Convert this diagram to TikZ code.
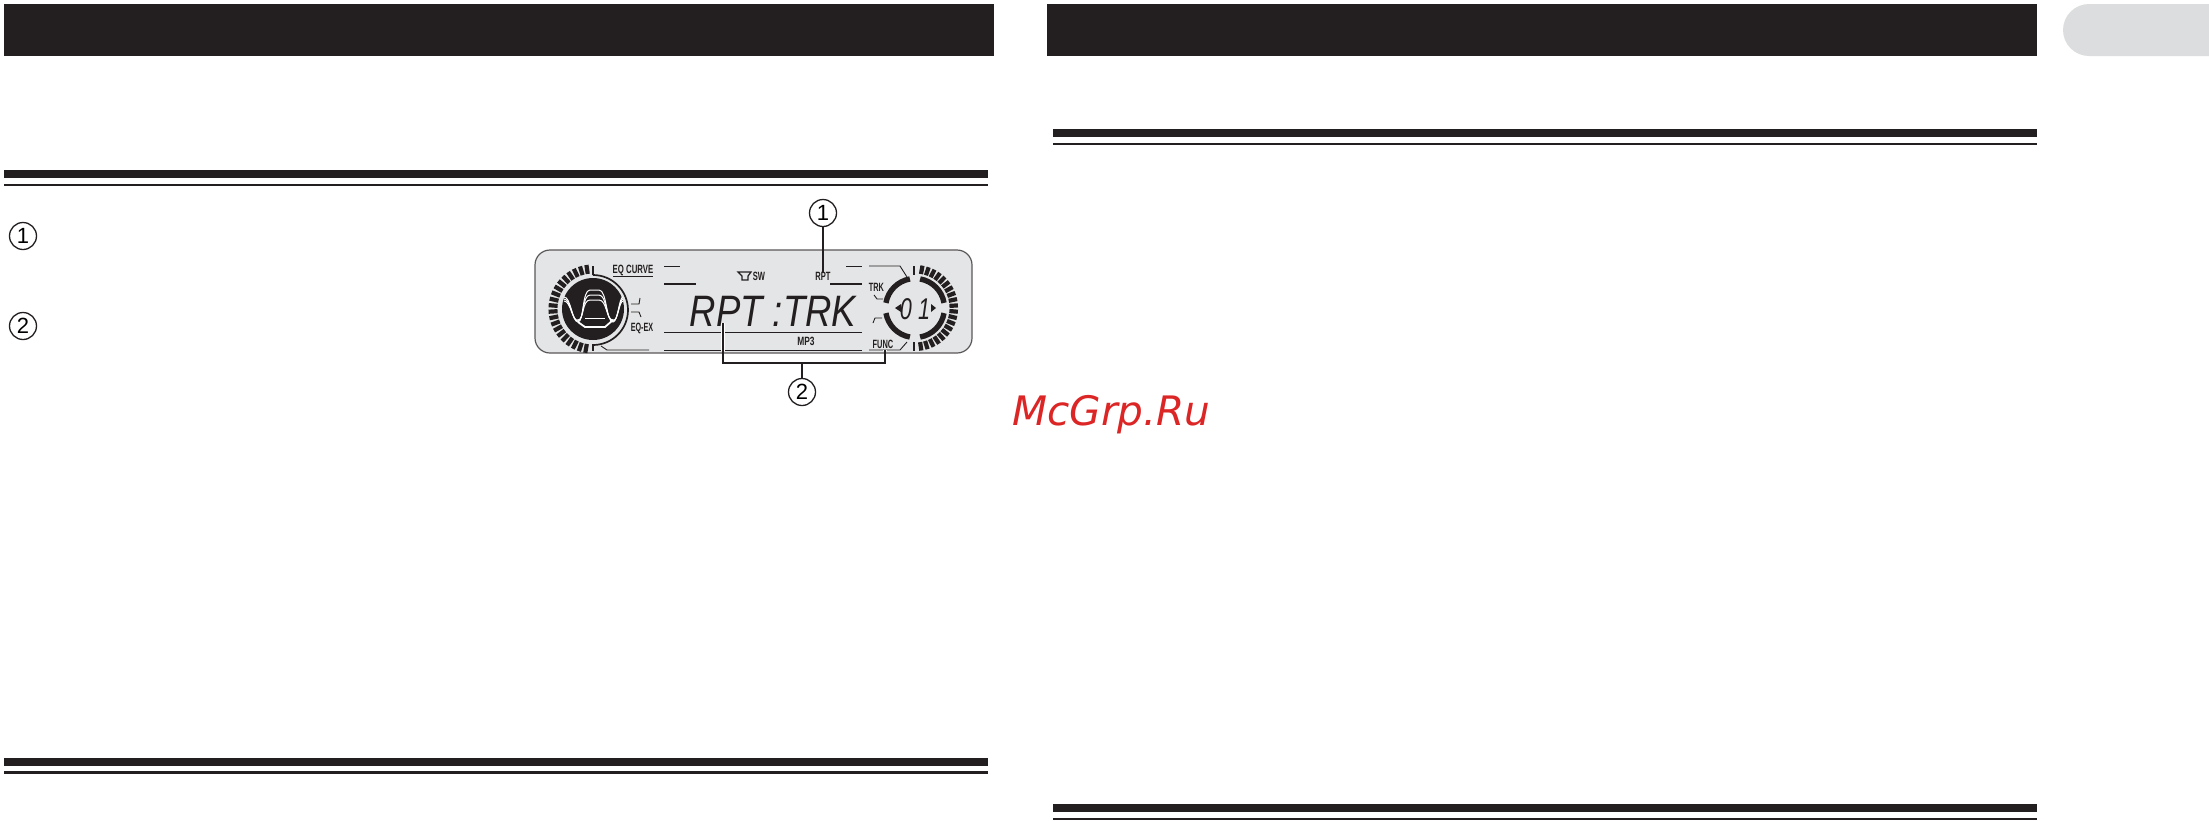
\documentclass[tikz,border=0pt]{standalone}
\usepackage{fontspec}
\setmainfont{Liberation Sans}
\newfontfamily\markfont{DejaVu Sans}
\usepackage{xcolor}
\usepackage{tikz}
\definecolor{barblack}{HTML}{231F20}
\definecolor{panelgrey}{HTML}{E4E5E6}
\definecolor{tabgrey}{HTML}{DCDDDE}
\definecolor{markred}{HTML}{DC2626}
\tikzset{
bar/.style = {fill=barblack, draw=none},
callout/.style = {circle, draw=barblack, line width=1.3pt, minimum size=27pt,
              inner sep=0pt, outer sep=0pt, font=\fontsize{22}{22}\selectfont},
lcdlabel/.style = {inner sep=0pt, outer sep=0pt, text=barblack, xscale=#1,
              font=\fontsize{12}{12}\selectfont\bfseries},
lcdlabel/.default = 0.63,
lcdline/.style = {draw=barblack, line width=0.9pt},
lcdthick/.style = {draw=barblack, line width=1.7pt},
tick/.style = {draw=barblack, line width=4.2pt},
arcseg/.style = {draw=barblack, line width=5.4pt},
leader/.style = {draw=barblack, line width=1.6pt},
halo/.style = {draw=white, line width=3.6pt},
eqwave/.style = {draw=white, line width=1pt}
}
\begin{document}
\begin{tikzpicture}[x=1pt, y=-1pt]
  \useasboundingbox[fill=white] (0,0) rectangle (2209,820);

  % Bars
    \fill[bar] (4,4) rectangle (994,56);
    \fill[bar] (1047,4) rectangle (2037,56);
    \fill[tabgrey] (2209,4) -- (2089,4) arc[start angle=-90, end angle=-270, radius=26] -- (2209,56) -- cycle;

  % Rules
    \fill[bar] (4,170) rectangle (988,178);
    \fill[bar] (4,184) rectangle (988,186);
    \fill[bar] (1053,129) rectangle (2037,137);
    \fill[bar] (1053,143) rectangle (2037,145);
    \fill[bar] (4,758) rectangle (988,766);
    \fill[bar] (4,771) rectangle (988,774);
    \fill[bar] (1053,804) rectangle (2037,812);
    \fill[bar] (1053,818) rectangle (2037,820);

  % Panel
    \draw[fill=panelgrey, draw=barblack!75, line width=1.2pt, rounded corners=15pt] (535,250) rectangle (972,353);

  % Left dial
    \coordinate (leftDial) at (593,309);
    \foreach \a in {100,108.5,...,262}
      \draw[tick] ([shift={(\a:35.5)}]leftDial) -- ([shift={(\a:44.5)}]leftDial);
    \draw[lcdthick] (593,275) arc[start angle=-90, end angle=90, radius=35];
    \fill[barblack] (leftDial) circle[radius=31];
    \draw[lcdline, line width=1.4pt] (593,266) -- (593,275);
    \draw[lcdline, line width=1.4pt] (593,344) -- (593,351);
    \foreach \d in {0,5,10}
      \draw[eqwave] (564,{297+\d*0.4}) .. controls (571,{297+\d*0.4}) and (572,322) .. (578,{322-\d*0.2})
        .. controls (584,{322-\d*0.2}) and (582,{290+\d}) .. (590,{290+\d}) -- (599,{290+\d})
        .. controls (607,{290+\d}) and (606,{322-\d*0.2}) .. (613,{322-\d*0.2})
        .. controls (618,322) and (619,{297+\d*0.4}) .. (623,{297+\d*0.4});
    \draw[eqwave, line width=1.8pt] (578,322) -- (585,327) -- (605,327) -- (613,320);
    \draw[eqwave] (585,318) -- (605,318);

  % Right dial
    \coordinate (rightDial) at (915,308);
    \foreach \a in {-80,-71.5,...,82}
      \draw[tick] ([shift={(\a:34.5)}]rightDial) -- ([shift={(\a:43)}]rightDial);
    \draw[lcdline, line width=1.4pt] (914,266) -- (914,275);
    \draw[lcdline, line width=1.4pt] (914,342) -- (914,351);
    \foreach \a in {10,100,190,280}
      \draw[arcseg] ([shift={(\a:29.5)}]rightDial) arc[start angle=\a, delta angle=70, radius=29.5];
    \fill[barblack] (895,308) -- (901,304) -- (901,312) -- cycle;
    \fill[barblack] (936,308) -- (931,304) -- (931,312) -- cycle;
    \node[inner sep=0pt, xscale=0.72, text=barblack, font=\fontsize{30}{30}\selectfont\itshape] (dialDigits) at (915,309) {0\kern9pt 1};

  % Labels
    \node[lcdlabel=0.65] (eqCurve) at (633,270) {EQ CURVE};
    \node[lcdlabel=0.6] (eqEx) at (642,328) {EQ-EX};
    \node[lcdlabel] (swLabel) at (759,276) {SW};
    \node[lcdlabel] (rptLabel) at (823,276) {RPT};
    \node[lcdlabel=0.7] (mpLabel) at (806,341) {MP3};
    \node[lcdlabel=0.62] (funcLabel) at (883,344) {FUNC};
    \node[lcdlabel=0.61] (trkLabel) at (876.5,287) {TRK};
    \node[inner sep=0pt, xscale=0.83, text=barblack, font=\fontsize{44}{44}\selectfont\itshape] (mainText) at (773,311) {RPT :TRK};

  % Speaker
    \draw[lcdline, line width=1.2pt] (738,272) -- (751,272) -- (748,276) -- (748,280) -- (742,280) -- (742,276) -- cycle;

  % Segments
    \draw[lcdline] (613,276) -- (653,276);
    \draw[lcdline] (664,266) -- (680,266);
    \draw[lcdthick] (664,284) -- (696,284);
    \draw[lcdthick] (830,284) -- (862,284);
    \draw[lcdline] (846,266) -- (862,266);
    \draw[lcdline] (664,332) -- (862,332);
    \draw[lcdline] (664,350) -- (862,350);
    \draw[lcdline] (869,266) -- (900,266) -- (907,277);
    \draw[lcdline] (601,346) -- (607,350) -- (649,350);
    \draw[lcdline] (869,350) -- (900,350) -- (907,342);
    \draw[lcdline] (874,295) -- (877,299) -- (883,299);
    \draw[lcdline] (873,323) -- (875,318) -- (882,318);
    \draw[lcdline] (631,304) -- (639,304) -- (640,298);
    \draw[lcdline] (631,312) -- (639,312) -- (641,317);

  % Callouts
    \node[callout] (numOne) at (23,236) {1};
    \node[callout] (numTwo) at (23,326) {2};
    \node[callout] (calloutOne) at (823,213) {1};
    \node[callout] (calloutTwo) at (802,392) {2};

  % Leaders
    \coordinate (bracketLeft) at (723,323);
    \coordinate (bracketRight) at (885,350);
    \coordinate (bracketMid) at (802,363);
    \draw[halo] (bracketLeft) -- (723,351);
    \draw[halo] (bracketRight) -- (885,351);
    \draw[leader] (calloutOne) -- (rptLabel.north);
    \draw[leader] (bracketLeft) |- (bracketMid) -| (bracketRight);
    \draw[leader] (bracketMid) -- (calloutTwo);

  % Watermark
    \node[inner sep=0pt, anchor=base west, text=markred, font=\markfont\fontsize{40.6}{40.6}\selectfont\itshape] (watermark) at (1012,425) {McGrp.Ru};
\end{tikzpicture}
\end{document}
